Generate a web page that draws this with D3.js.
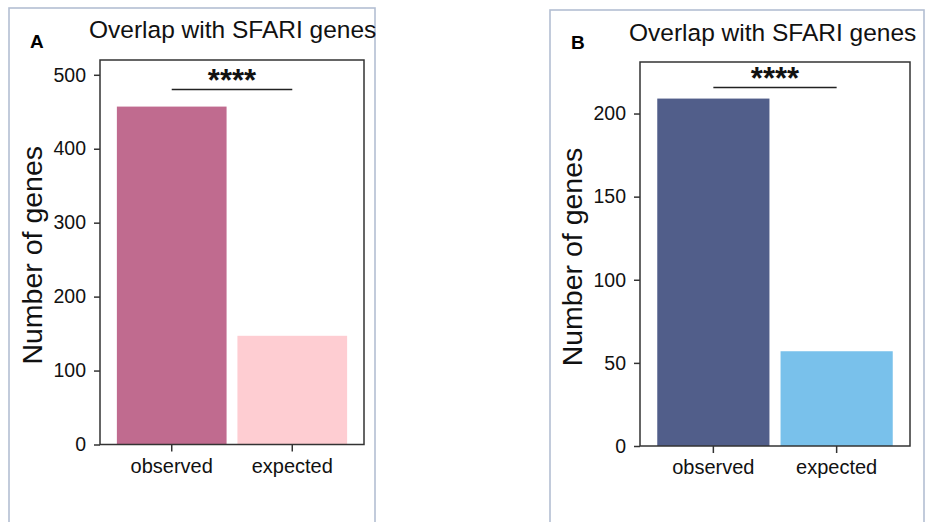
<!DOCTYPE html>
<html>
<head>
<meta charset="utf-8">
<script src="https://cdn.jsdelivr.net/npm/d3@7/dist/d3.min.js"></script>
<style>
  html, body { margin: 0; padding: 0; background: #ffffff; }
  svg { display: block; }
  text { font-family: "Liberation Sans", Arial, Helvetica, sans-serif; }
</style>
</head>
<body>
<svg id="chart" width="926" height="522"></svg>
<script>
// Gene-overlap counts with the SFARI autism gene list
const categories = ["observed", "expected"];
const countsA = [457, 147];
const countsB = [209, 57];
const ticksA = [0, 100, 200, 300, 400, 500];
const ticksB = [0, 50, 100, 150, 200];
const colorsA = ["#c06b8f", "#fecdd2"];
const colorsB = ["#515e8a", "#79c1eb"];
const titleText = "Overlap with SFARI genes";
const yTitleText = "Number of genes";
const significance = "****";

const svg = d3.select("#chart");

function drawPanel(cfg) {
  const g = svg.append("g");

  // outer figure frame
  g.append("rect")
    .attr("x", cfg.frame.x).attr("y", cfg.frame.y)
    .attr("width", cfg.frame.w).attr("height", cfg.frame.h)
    .attr("fill", "none").attr("stroke", "#b3bfd3").attr("stroke-width", 1.6);

  // panel letter
  g.append("text")
    .attr("x", cfg.letterPos[0]).attr("y", cfg.letterPos[1])
    .attr("font-size", 19).attr("font-weight", "bold").attr("fill", "#000")
    .text(cfg.letter);

  // title
  g.append("text")
    .attr("x", cfg.titlePos[0]).attr("y", cfg.titlePos[1])
    .attr("font-size", 24.5).attr("fill", "#111")
    .text(titleText);

  const p = cfg.plot;
  const x = d3.scaleBand()
    .domain(categories)
    .range([p.left, p.right])
    .paddingInner(0.09)
    .paddingOuter(0.14);

  const y = d3.scaleLinear()
    .domain([0, cfg.yMax])
    .range([p.bottom, p.top]);

  // bars
  g.selectAll("rect.bar")
    .data(categories.map((c, i) => ({ c, v: cfg.values[i], col: cfg.colors[i] })))
    .enter().append("rect")
    .attr("class", "bar")
    .attr("x", d => x(d.c))
    .attr("width", x.bandwidth())
    .attr("y", d => y(d.v))
    .attr("height", d => y(0) - y(d.v))
    .attr("fill", d => d.col);

  // panel border
  g.append("rect")
    .attr("x", p.left).attr("y", p.top)
    .attr("width", p.right - p.left).attr("height", p.bottom - p.top)
    .attr("fill", "none").attr("stroke", "#333").attr("stroke-width", 1.5);

  // y axis
  const yAxis = g.append("g")
    .attr("transform", `translate(${p.left},0)`)
    .call(d3.axisLeft(y).tickValues(cfg.ticks).tickSize(6).tickPadding(8).tickSizeOuter(0));
  yAxis.select(".domain").remove();
  yAxis.selectAll(".tick line").attr("stroke", "#333").attr("stroke-width", 1.5);
  yAxis.selectAll(".tick text")
    .attr("font-size", 19.5).attr("fill", "#111")
    .style("font-family", "'Liberation Sans', Arial, sans-serif");

  // x axis
  const xAxis = g.append("g")
    .attr("transform", `translate(0,${p.bottom})`)
    .call(d3.axisBottom(x).tickSize(7).tickPadding(7).tickSizeOuter(0));
  xAxis.select(".domain").remove();
  xAxis.selectAll(".tick line").attr("stroke", "#333").attr("stroke-width", 1.5);
  xAxis.selectAll(".tick text")
    .attr("font-size", 20).attr("fill", "#111")
    .style("font-family", "'Liberation Sans', Arial, sans-serif");

  // y axis title
  g.append("text")
    .attr("transform", `translate(${cfg.yTitleX},${(p.top + p.bottom) / 2 + 3}) rotate(-90)`)
    .attr("text-anchor", "middle")
    .attr("font-size", 28.5).attr("fill", "#111")
    .text(yTitleText);

  // significance bracket between the two bars
  const x1 = x(categories[0]) + x.bandwidth() / 2;
  const x2 = x(categories[1]) + x.bandwidth() / 2;
  g.append("line")
    .attr("x1", x1).attr("x2", x2)
    .attr("y1", cfg.bracketY).attr("y2", cfg.bracketY)
    .attr("stroke", "#222").attr("stroke-width", 1.6);
  g.append("text")
    .attr("x", (x1 + x2) / 2).attr("y", cfg.bracketY + 1)
    .attr("text-anchor", "middle")
    .attr("font-size", 31).attr("font-weight", "bold").attr("fill", "#111")
    .text(significance);
}

drawPanel({
  frame: { x: 9, y: 8, w: 366, h: 530 },
  letter: "A", letterPos: [30, 48],
  titlePos: [89, 38],
  plot: { left: 100, right: 364, top: 60, bottom: 444.5 },
  yMax: 520, ticks: ticksA, values: countsA, colors: colorsA,
  yTitleX: 42, bracketY: 89.5
});

drawPanel({
  frame: { x: 550, y: 10, w: 374, h: 530 },
  letter: "B", letterPos: [571, 49],
  titlePos: [629, 41],
  plot: { left: 640, right: 910, top: 62, bottom: 446 },
  yMax: 231, ticks: ticksB, values: countsB, colors: colorsB,
  yTitleX: 582, bracketY: 87.5
});
</script>
</body>
</html>
